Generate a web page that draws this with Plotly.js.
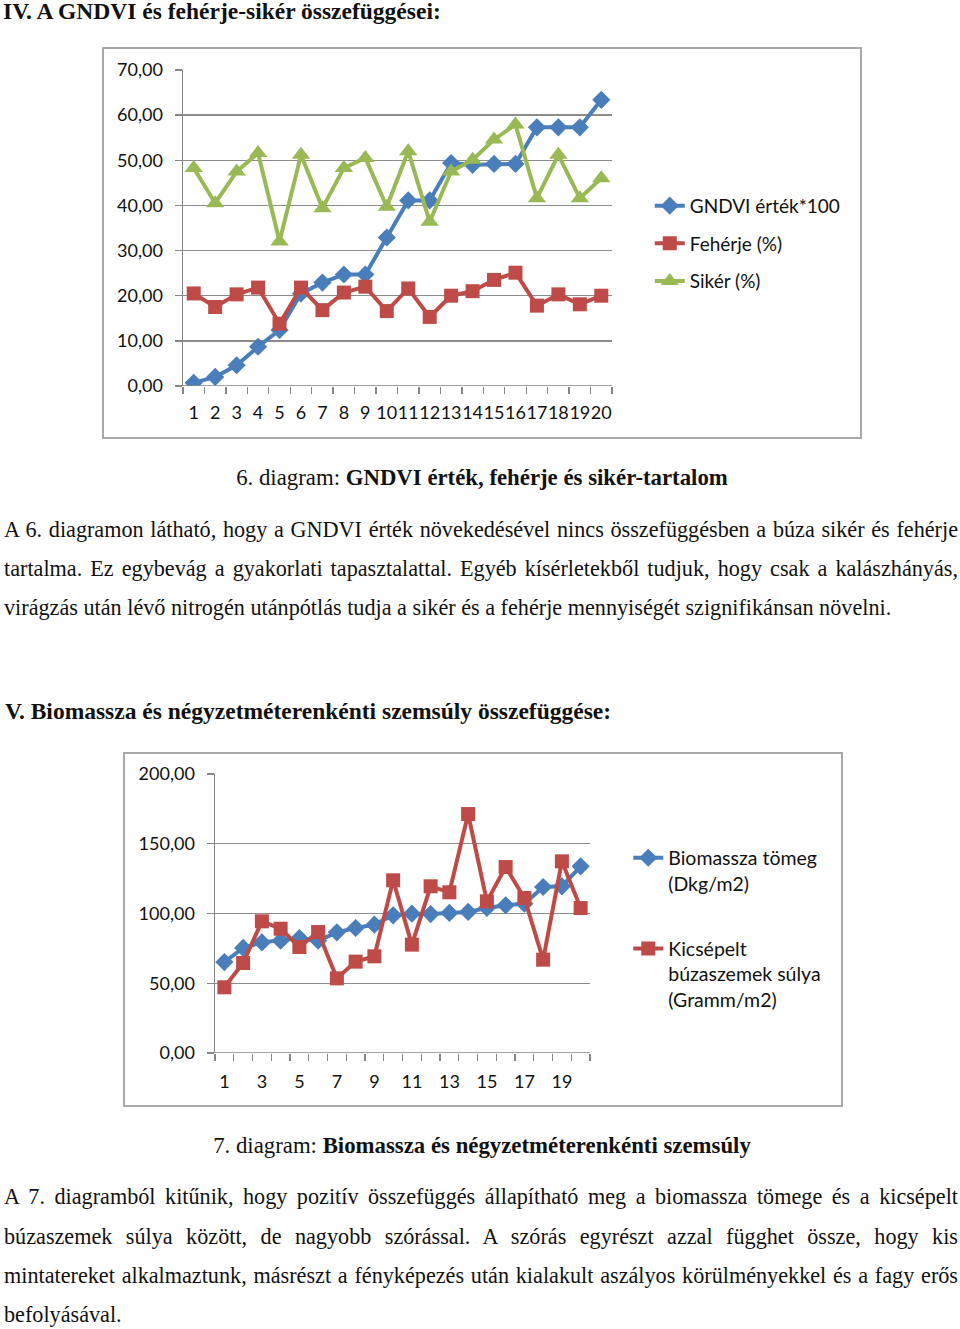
<!DOCTYPE html>
<html>
<head>
<meta charset="utf-8">
<script src="https://cdn.plot.ly/plotly-3.0.1.min.js"></script>
<style>
  html, body { margin:0; padding:0; background:#fff; }
  body { width:960px; height:1329px; position:relative; overflow:hidden; font-family:"Liberation Serif", serif; color:#111; }
  .t { position:absolute; white-space:nowrap; }
  .h { font-weight:bold; font-size:23.5px; line-height:1; }
  .cap { font-size:22.8px; line-height:1; left:0; width:964px; text-align:center; }
  .j { left:4px; width:954px; font-size:22.2px; line-height:1.15; text-align:justify; text-align-last:justify; white-space:normal; }
  .l { left:4px; font-size:22.2px; line-height:1.15; }
  .box { position:absolute; border:2px solid #a8a8a8; box-sizing:border-box; background:#fff; }
  .box > div { position:absolute; left:0; top:0; }
</style>
</head>
<body>
<div class="t h" style="left:3px; top:0px;">IV. A GNDVI és fehérje-sikér összefüggései:</div>

<div class="box" style="left:102px; top:47px; width:760px; height:392px;"><div id="c1"></div></div>

<div class="t cap" style="top:467px;">6. diagram: <b>GNDVI érték, fehérje és sikér-tartalom</b></div>
<div class="t j" style="top:517px;">A 6. diagramon látható, hogy a GNDVI érték növekedésével nincs összefüggésben a búza sikér és fehérje</div>
<div class="t j" style="top:556px;">tartalma. Ez egybevág a gyakorlati tapasztalattal. Egyéb kísérletekből tudjuk, hogy csak a kalászhányás,</div>
<div class="t l" style="top:595px;">virágzás után lévő nitrogén utánpótlás tudja a sikér és a fehérje mennyiségét szignifikánsan növelni.</div>

<div class="t h" style="left:5px; top:700px;">V. Biomassza és négyzetméterenkénti szemsúly összefüggése:</div>

<div class="box" style="left:123px; top:752px; width:720px; height:355px;"><div id="c2"></div></div>

<div class="t cap" style="top:1135px;">7. diagram: <b>Biomassza és négyzetméterenkénti szemsúly</b></div>
<div class="t j" style="top:1184px;">A 7. diagramból kitűnik, hogy pozitív összefüggés állapítható meg a biomassza tömege és a kicsépelt</div>
<div class="t j" style="top:1224px;">búzaszemek súlya között, de nagyobb szórással. A szórás egyrészt azzal függhet össze, hogy kis</div>
<div class="t j" style="top:1263px;">mintatereket alkalmaztunk, másrészt a fényképezés után kialakult aszályos körülményekkel és a fagy erős</div>
<div class="t l" style="top:1302px;">befolyásával.</div>

<script>
// ---- Chart 1 data ----
const cats1 = [1,2,3,4,5,6,7,8,9,10,11,12,13,14,15,16,17,18,19,20];
const gndvi = [0.7,2.0,4.6,8.7,12.4,20.5,22.9,24.7,24.7,32.9,41.1,41.1,49.4,49.0,49.2,49.2,57.3,57.3,57.3,63.4];
const feherje = [20.5,17.5,20.3,21.8,13.8,21.8,16.8,20.7,22.0,16.6,21.6,15.3,20.0,21.0,23.5,25.1,17.8,20.3,18.1,20.0];
const siker = [48.3,40.5,47.5,51.6,32.0,51.2,39.4,48.3,50.5,39.7,52.0,36.4,47.5,50.1,54.6,57.9,41.6,51.2,41.6,46.0];
const names1 = ["GNDVI érték*100","Fehérje (%)","Sikér (%)"];
const yTicks1 = [0,10,20,30,40,50,60,70];

// ---- Chart 2 data ----
const cats2 = [1,2,3,4,5,6,7,8,9,10,11,12,13,14,15,16,17,18,19,20];
const biomassza = [65.2,75.3,79.3,80.5,82.4,80.5,86.5,89.6,92.0,98.7,99.9,99.6,100.4,101.1,104.0,105.9,107.0,119.0,119.5,133.8];
const szemsuly = [47.1,64.5,94.4,89.1,76.0,86.7,53.5,65.5,69.3,123.8,77.7,119.5,115.2,171.3,108.7,133.3,111.1,66.9,137.4,103.9];
const names2 = ["Biomassza tömeg<br>(Dkg/m2)","Kicsépelt<br>búzaszemek súlya<br>(Gramm/m2)"];
const yTicks2 = [0,50,100,150,200];
const xLabels2 = [1,3,5,7,9,11,13,15,17,19];

const BLUE = "#4a7ebb", RED = "#be4b48", GREEN = "#98b954";
const FONT = "Lato, 'Open Sans', sans-serif";
const fmt = v => v.toFixed(2).replace(".", ",");

function xaxisCfg(labels, standoff){
  return {
    range:[0.5,20.5], tickmode:"array", tickvals:labels, ticktext:labels.map(String),
    ticks:"", tickangle:0, showgrid:false, zeroline:false, showline:false, ticklabelstandoff:standoff,
    tickfont:{family:FONT, size:18, color:"#111"},
    minor:{tickmode:"linear", tick0:0.5, dtick:1, ticks:"outside", ticklen:7, tickcolor:"#868686", tickwidth:1.3, showgrid:false},
    fixedrange:true
  };
}
function yaxisCfg(range, ticks){
  return {
    range:range, tickmode:"array", tickvals:ticks, ticktext:ticks.map(fmt),
    ticks:"outside", ticklen:7, tickcolor:"#868686", tickwidth:1.3, ticklabelstandoff:8,
    showgrid:true, gridcolor:"#8c8c8c", gridwidth:1.3,
    zeroline:false, showline:true, linecolor:"#868686", linewidth:1.5,
    tickfont:{family:FONT, size:18, color:"#111"}, fixedrange:true
  };
}

const tr1 = [
  {x:cats1, y:gndvi, name:names1[0], type:"scatter", mode:"lines+markers", legendgroup:"a",
   line:{color:BLUE, width:4}, marker:{symbol:"diamond", size:14, color:BLUE}},
  {x:cats1, y:feherje, name:names1[1], type:"scatter", mode:"lines+markers", legendgroup:"b",
   line:{color:RED, width:4}, marker:{symbol:"square", size:14, color:RED}},
  {x:cats1, y:siker, name:names1[2], type:"scatter", mode:"lines+markers", legendgroup:"c",
   line:{color:GREEN, width:4}, marker:{symbol:"triangle-up", size:16, color:GREEN}}
];
const lay1 = {
  width:756, height:388, margin:{l:79.3, r:248.3, t:21.3, b:51.3},
  paper_bgcolor:"#fff", plot_bgcolor:"#fff", showlegend:true,
  xaxis:xaxisCfg(cats1, 14), yaxis:yaxisCfg([0,70], yTicks1),
  shapes:[{type:"line", xref:"paper", yref:"y", x0:0, x1:1, y0:0, y1:0, line:{color:"#868686", width:1.5}}],
  legend:{x:1.088, xanchor:"left", y:0.45, yanchor:"middle", traceorder:"grouped", tracegroupgap:10,
          font:{family:FONT, size:19, color:"#111"}, bgcolor:"rgba(0,0,0,0)"}
};
Plotly.newPlot("c1", tr1, lay1, {staticPlot:true, displayModeBar:false});

const tr2 = [
  {x:cats2, y:biomassza, name:names2[0], type:"scatter", mode:"lines+markers", legendgroup:"a",
   line:{color:BLUE, width:4}, marker:{symbol:"diamond", size:14, color:BLUE}},
  {x:cats2, y:szemsuly, name:names2[1], type:"scatter", mode:"lines+markers", legendgroup:"b",
   line:{color:RED, width:4}, marker:{symbol:"square", size:14, color:RED}}
];
const lay2 = {
  width:716, height:351, margin:{l:90, r:251, t:20, b:52},
  paper_bgcolor:"#fff", plot_bgcolor:"#fff", showlegend:true,
  xaxis:xaxisCfg(xLabels2, 16), yaxis:yaxisCfg([0,200], yTicks2),
  shapes:[{type:"line", xref:"paper", yref:"y", x0:0, x1:1, y0:0, y1:0, line:{color:"#868686", width:1.5}}],
  legend:{x:1.102, xanchor:"left", y:0.446, yanchor:"middle", traceorder:"grouped", tracegroupgap:37, valign:"top",
          font:{family:FONT, size:19.5, color:"#111"}, bgcolor:"rgba(0,0,0,0)"}
};
Plotly.newPlot("c2", tr2, lay2, {staticPlot:true, displayModeBar:false});
</script>
</body>
</html>
